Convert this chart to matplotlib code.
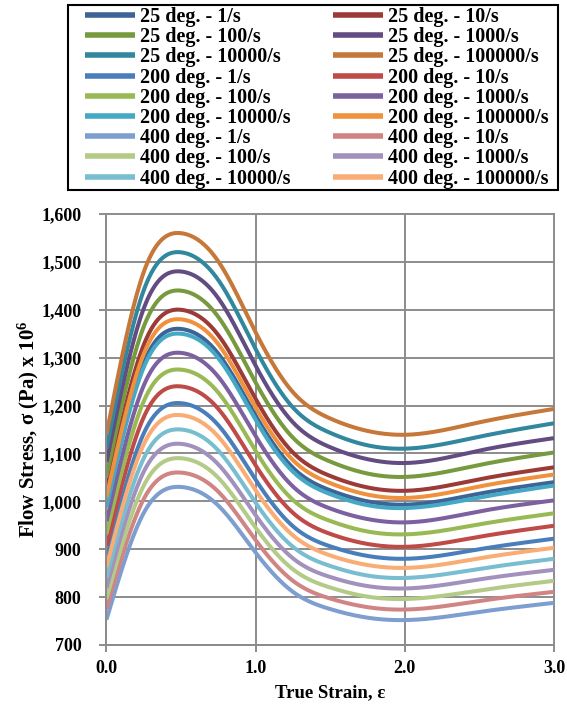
import numpy as np
import matplotlib
matplotlib.use("Agg")
import matplotlib.pyplot as plt
from matplotlib.patches import Rectangle
from matplotlib.ticker import FuncFormatter, MultipleLocator

plt.rcParams['font.family'] = ['Liberation Serif', 'DejaVu Serif']
plt.rcParams['font.weight'] = 'bold'
plt.rcParams['mathtext.fontset'] = 'custom'
plt.rcParams['mathtext.rm'] = 'Liberation Serif:bold'
plt.rcParams['mathtext.default'] = 'rm'

# ---- data ----
strain = [0.0, 0.25, 0.5, 0.75, 1.0, 1.25, 1.5, 1.75, 2.0, 2.5, 3.0]

labels = [
    "25 deg. - 1/s", "25 deg. - 10/s", "25 deg. - 100/s",
    "25 deg. - 1000/s", "25 deg. - 10000/s", "25 deg. - 100000/s",
    "200 deg. - 1/s", "200 deg. - 10/s", "200 deg. - 100/s",
    "200 deg. - 1000/s", "200 deg. - 10000/s", "200 deg. - 100000/s",
    "400 deg. - 1/s", "400 deg. - 10/s", "400 deg. - 100/s",
    "400 deg. - 1000/s", "400 deg. - 10000/s", "400 deg. - 100000/s",
]

s25_1      = [994, 1289, 1360, 1308, 1179, 1070, 1023, 1000, 993, 1016, 1040]
s25_10     = [1023, 1327, 1400, 1347, 1214, 1102, 1053, 1029, 1022, 1046, 1071]
s25_100    = [1053, 1365, 1440, 1385, 1248, 1133, 1083, 1058, 1051, 1076, 1102]
s25_1000   = [1082, 1403, 1480, 1424, 1283, 1165, 1113, 1088, 1080, 1106, 1132]
s25_10000  = [1111, 1441, 1520, 1462, 1318, 1196, 1143, 1117, 1110, 1135, 1163]
s25_100000 = [1140, 1479, 1560, 1501, 1353, 1228, 1173, 1147, 1139, 1165, 1193]

s200_1      = [881, 1142, 1205, 1159, 1045, 948, 906, 886, 880, 900, 922]
s200_10     = [906, 1176, 1240, 1193, 1075, 976, 932, 911, 905, 926, 949]
s200_100    = [932, 1209, 1275, 1227, 1105, 1003, 959, 937, 931, 952, 975]
s200_1000   = [958, 1242, 1310, 1260, 1136, 1031, 985, 963, 956, 979, 1002]
s200_10000  = [987, 1280, 1350, 1299, 1170, 1062, 1015, 992, 986, 1008, 1033]
s200_100000 = [1009, 1308, 1380, 1328, 1196, 1086, 1038, 1014, 1007, 1031, 1056]

s400_1      = [753, 976, 1030, 991, 893, 811, 775, 757, 752, 769, 788]
s400_10     = [775, 1005, 1060, 1020, 919, 834, 797, 779, 774, 792, 811]
s400_100    = [797, 1033, 1090, 1049, 945, 858, 820, 801, 796, 814, 834]
s400_1000   = [819, 1062, 1120, 1077, 971, 881, 842, 823, 818, 837, 857]
s400_10000  = [841, 1090, 1150, 1106, 997, 905, 865, 845, 840, 859, 880]
s400_100000 = [863, 1119, 1180, 1135, 1023, 929, 887, 867, 861, 881, 903]

series = [s25_1, s25_10, s25_100, s25_1000, s25_10000, s25_100000,
          s200_1, s200_10, s200_100, s200_1000, s200_10000, s200_100000,
          s400_1, s400_10, s400_100, s400_1000, s400_10000, s400_100000]

colors = ["#3C6496", "#9A3B38", "#779A3E", "#624C81", "#31879E", "#C6783A",
          "#4A7EBB", "#BE4B48", "#98B954", "#7D60A0", "#45A8C4", "#F0913E",
          "#7E9ED0", "#D08584", "#B3CB86", "#A391BD", "#78BDD0", "#F9AD75"]


def natural_spline(x, y, n=400):
    x = np.asarray(x, float)
    y = np.asarray(y, float)
    m = len(x)
    h = np.diff(x)
    A = np.zeros((m, m))
    b = np.zeros(m)
    A[0, 0] = 1
    A[-1, -1] = 1
    for i in range(1, m - 1):
        A[i, i - 1] = h[i - 1]
        A[i, i] = 2 * (h[i - 1] + h[i])
        A[i, i + 1] = h[i]
        b[i] = 6 * ((y[i + 1] - y[i]) / h[i] - (y[i] - y[i - 1]) / h[i - 1])
    M = np.linalg.solve(A, b)
    xs = np.linspace(x[0], x[-1], n)
    idx = np.clip(np.searchsorted(x, xs) - 1, 0, m - 2)
    x0, x1 = x[idx], x[idx + 1]
    hh = x1 - x0
    t0 = x1 - xs
    t1 = xs - x0
    ys = (M[idx] * t0 ** 3 / (6 * hh) + M[idx + 1] * t1 ** 3 / (6 * hh)
          + (y[idx] / hh - M[idx] * hh / 6) * t0
          + (y[idx + 1] / hh - M[idx + 1] * hh / 6) * t1)
    return xs, ys


W, H = 567, 708
fig = plt.figure(figsize=(W / 100, H / 100), dpi=100)
ax = fig.add_axes([0.1878, 0.089, 0.977 - 0.1878, 0.6977 - 0.089])

handles = []
for vals, c, lab in zip(series, colors, labels):
    xs, ys = natural_spline(strain, vals)
    h, = ax.plot(xs, ys, color=c, lw=2.9, label=lab, solid_capstyle='butt')
    handles.append(h)

ax.set_xlim(0, 3)
ax.set_ylim(700, 1600)
ax.xaxis.set_major_locator(MultipleLocator(1.0))
ax.yaxis.set_major_locator(MultipleLocator(100))
ax.xaxis.set_major_formatter(FuncFormatter(lambda v, p: f"{v:.1f}"))
ax.yaxis.set_major_formatter(FuncFormatter(lambda v, p: f"{v:,.0f}"))
ax.grid(True, color="#8C8C8C", lw=1.4, zorder=0)
ax.set_axisbelow(True)
for gl in ax.get_xgridlines() + ax.get_ygridlines():
    gl.set_clip_on(False)
for s in ['top', 'right']:
    ax.spines[s].set_visible(False)
for s in ['left', 'bottom']:
    ax.spines[s].set_color("#8C8C8C")
    ax.spines[s].set_linewidth(1.4)
ax.tick_params(axis='both', colors="#8C8C8C", length=5, width=1.4,
               labelcolor='black', labelsize=13)
ax.tick_params(axis='x', pad=6)
ax.tick_params(axis='y', pad=13)
for t in ax.get_xticklabels() + ax.get_yticklabels():
    t.set_fontweight('bold')

ax.set_xlabel("True Strain, ε", fontsize=13.5, fontweight='bold', labelpad=5)
ax.set_ylabel("Flow Stress, σ (Pa) x 10$^{6}$", fontsize=15,
              fontweight='bold', labelpad=0.5)

# legend frame (drawn separately so horizontal/vertical padding differ)
fig.patches.append(Rectangle((68 / W, 1 - 190 / H), (558 - 68) / W, (190 - 5) / H,
                             transform=fig.transFigure, fill=False,
                             edgecolor='black', lw=1.5))

order = list(range(0, 18, 2)) + list(range(1, 18, 2))
leg = fig.legend([handles[i] for i in order], [labels[i] for i in order],
                 ncol=2, loc='upper left',
                 bbox_to_anchor=(85 / W, 1 - 7 / H, (549 - 85) / W, 0.0),
                 mode='expand',
                 prop={'family': 'Liberation Serif', 'weight': 'bold', 'size': 14.5},
                 frameon=False,
                 handlelength=2.5, handletextpad=0.25, labelspacing=0.01,
                 borderpad=0.0, columnspacing=1.5, borderaxespad=0)
for lh in leg.get_lines():
    lh.set_linewidth(4)

fig.savefig("out.png", dpi=100)
